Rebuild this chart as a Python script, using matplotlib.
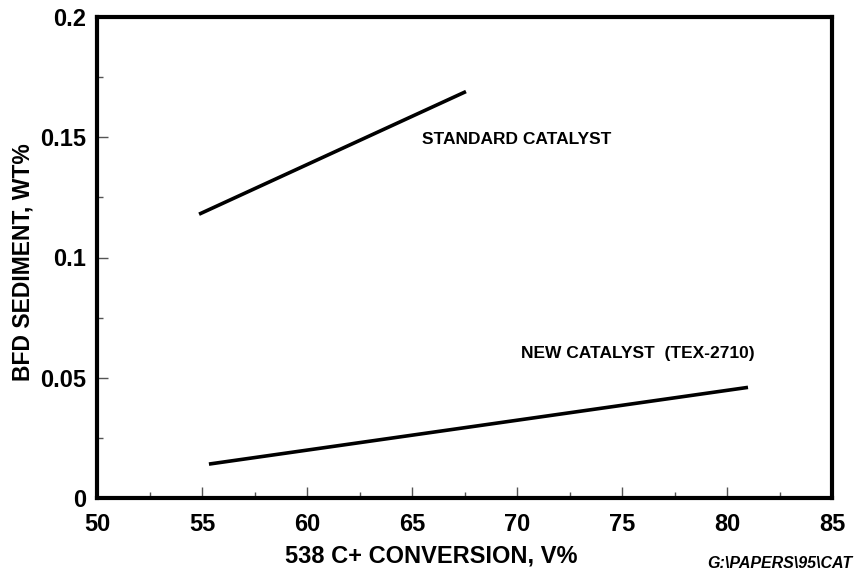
import matplotlib
matplotlib.use("Agg")
import matplotlib.pyplot as plt
from matplotlib.ticker import MultipleLocator

plt.rcParams['font.family'] = ['Liberation Sans', 'DejaVu Sans']
plt.rcParams['font.weight'] = 'bold'

# standard catalyst line
std_x = [54.86, 67.57]
std_y = [0.118, 0.169]
# new catalyst (TEX-2710)
new_x = [55.33, 81.0]
new_y = [0.0141, 0.046]

x_ticks = [50, 55, 60, 65, 70, 75, 80, 85]
y_ticks = [0, 0.05, 0.1, 0.15, 0.2]
y_tick_labels = ['0', '0.05', '0.1', '0.15', '0.2']

fig = plt.figure(figsize=(8.56, 5.70), dpi=100)
ax = fig.add_axes([97 / 856, 72 / 570, (832 - 97) / 856, (498 - 17) / 570])

ax.plot(std_x, std_y, color='black', lw=2.6, solid_capstyle='butt')
ax.plot(new_x, new_y, color='black', lw=2.6, solid_capstyle='butt')

ax.text(70.0, 0.149, 'STANDARD CATALYST', ha='center', va='center',
        fontsize=12.5, fontweight='bold')
ax.text(75.76, 0.060, 'NEW CATALYST  (TEX-2710)', ha='center', va='center',
        fontsize=12.5, fontweight='bold')

ax.set_xlim(50, 85)
ax.set_ylim(0, 0.198)
ax.set_xticks(x_ticks)
ax.set_xticklabels([str(v) for v in x_ticks])
ax.set_yticks(y_ticks)
ax.set_yticklabels(y_tick_labels)
ax.xaxis.set_minor_locator(MultipleLocator(2.5))
ax.yaxis.set_minor_locator(MultipleLocator(0.025))

ax.tick_params(which='major', direction='in', length=8, width=1, color='#555555',
               labelsize=17, pad=11)
ax.tick_params(which='minor', direction='in', length=4, width=1, color='#555555')
ax.tick_params(axis='y', which='major', pad=8)
for lab in ax.get_xticklabels() + ax.get_yticklabels():
    lab.set_fontweight('bold')
    lab.set_clip_on(False)

for s in ax.spines.values():
    s.set_linewidth(3)

fig.text(431 / 856, 1 - 556 / 570, '538 C+ CONVERSION, V%', ha='center', va='center',
         fontsize=17, fontweight='bold')
fig.text(23 / 856, 1 - 262 / 570, 'BFD SEDIMENT, WT%', ha='center', va='center',
         rotation=90, fontsize=16.5, fontweight='bold')
fig.text(707 / 856, 1 - 564 / 570, 'G:\\PAPERS\\95\\CAT', ha='left', va='center',
         fontsize=11.5, fontweight='bold', style='italic')

fig.savefig('out.png', dpi=100)
